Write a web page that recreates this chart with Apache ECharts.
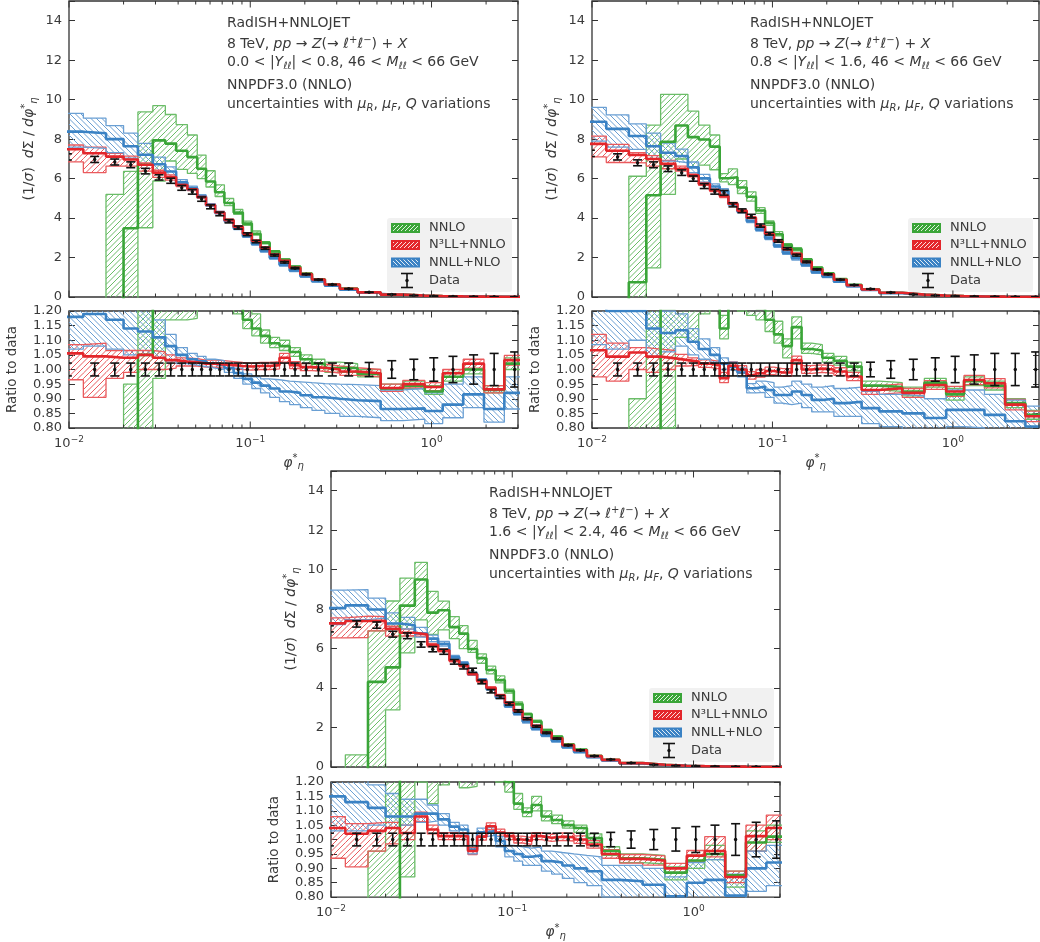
<!DOCTYPE html>
<html>
<head>
<meta charset="utf-8">
<script src="https://cdn.jsdelivr.net/npm/echarts@6/dist/echarts.min.js"></script>
<style>
html, body { margin: 0; padding: 0; background: #fff; }
#chart { width: 1040px; height: 942px; }
</style>
</head>
<body>
<div id="chart"></div>
<script>
// phi*_eta bin edges
var edges = [0.008, 0.012, 0.016, 0.02, 0.024, 0.029, 0.034, 0.039, 0.045, 0.051, 0.057, 0.064, 0.072, 0.081, 0.091, 0.102, 0.114, 0.128, 0.145, 0.165, 0.189, 0.219, 0.258, 0.312, 0.391, 0.524, 0.695, 0.918, 1.153, 1.496, 1.947, 2.522, 3.277];
var xMajorTicks = [0.01, 0.1, 1];
var xMinorTicks = [0.02, 0.03, 0.04, 0.05, 0.06, 0.07, 0.08, 0.09, 0.2, 0.3, 0.4, 0.5, 0.6, 0.7, 0.8, 0.9, 2, 3];
var rapLow = ['0.0', '0.8', '1.6'];
var rapHigh = ['0.8', '1.6', '2.4'];

// panel 1 : 0.0 < |Y| < 0.8  (data in absolute units, models as ratio to data)
var p1Data = [7.10, 6.97, 6.84, 6.70, 6.38, 6.06, 5.89, 5.53, 5.33, 4.96, 4.57, 4.21, 3.84, 3.52, 3.18, 2.81, 2.47, 2.12, 1.76, 1.46, 1.15, 0.88, 0.63, 0.42, 0.24, 0.13, 0.075, 0.046, 0.030, 0.019, 0.012, 0.008];
var p1Err = [0.022, 0.022, 0.022, 0.022, 0.022, 0.022, 0.022, 0.022, 0.022, 0.022, 0.022, 0.022, 0.022, 0.022, 0.022, 0.022, 0.022, 0.022, 0.022, 0.022, 0.022, 0.022, 0.022, 0.022, 0.024, 0.03, 0.035, 0.04, 0.045, 0.05, 0.055, 0.06];
var p1NnloC = [-1.0, -1.0, -0.15, 0.52, 1.05, 1.31, 1.32, 1.34, 1.33, 1.31, 1.28, 1.26, 1.24, 1.215, 1.17, 1.14, 1.115, 1.09, 1.08, 1.06, 1.035, 1.02, 1.005, 1.005, 0.985, 0.935, 0.945, 0.925, 0.975, 1.0, 0.93, 1.02];
var p1NnloLo = [-2.0, -2.0, -1.2, -0.2, 0.55, 0.97, 1.17, 1.17, 1.175, 1.21, 1.22, 1.21, 1.205, 1.19, 1.14, 1.115, 1.09, 1.075, 1.065, 1.045, 1.02, 1.005, 0.99, 0.99, 0.975, 0.925, 0.935, 0.915, 0.96, 0.985, 0.92, 1.0];
var p1NnloHi = [-0.3, -0.3, 0.76, 0.95, 1.47, 1.6, 1.57, 1.58, 1.54, 1.45, 1.40, 1.35, 1.30, 1.26, 1.21, 1.19, 1.135, 1.11, 1.1, 1.075, 1.05, 1.035, 1.025, 1.02, 1.0, 0.95, 0.96, 0.945, 0.99, 1.02, 0.945, 1.04];
var p1N3llC = [1.055, 1.045, 1.04, 1.04, 1.05, 1.04, 1.032, 1.027, 1.025, 1.02, 1.02, 1.017, 1.015, 1.012, 1.01, 1.012, 1.012, 1.015, 1.04, 1.015, 1.008, 1.006, 1.0, 0.993, 0.987, 0.937, 0.95, 0.94, 0.987, 1.02, 0.932, 1.032];
var p1N3llLo = [0.965, 0.905, 0.97, 0.99, 1.0, 1.0, 1.005, 1.012, 1.012, 1.008, 1.008, 1.005, 1.003, 1.0, 0.998, 1.0, 1.0, 1.002, 1.025, 1.003, 0.996, 0.994, 0.988, 0.98, 0.975, 0.925, 0.937, 0.928, 0.975, 1.005, 0.92, 1.015];
var p1N3llHi = [1.085, 1.09, 1.065, 1.065, 1.065, 1.06, 1.05, 1.04, 1.037, 1.032, 1.032, 1.03, 1.027, 1.024, 1.022, 1.024, 1.024, 1.027, 1.055, 1.027, 1.02, 1.018, 1.012, 1.006, 1.0, 0.95, 0.963, 0.955, 1.0, 1.035, 0.945, 1.048];
var p1NnllC = [1.18, 1.19, 1.17, 1.14, 1.13, 1.11, 1.08, 1.05, 1.035, 1.028, 1.02, 1.015, 1.005, 0.988, 0.968, 0.955, 0.945, 0.935, 0.925, 0.92, 0.912, 0.905, 0.9, 0.895, 0.892, 0.865, 0.867, 0.858, 0.88, 0.915, 0.865, 0.92];
var p1NnllLo = [1.07, 1.08, 1.07, 1.05, 1.05, 1.04, 1.03, 1.02, 1.015, 1.01, 1.005, 1.0, 0.99, 0.97, 0.95, 0.935, 0.92, 0.905, 0.89, 0.88, 0.87, 0.86, 0.85, 0.84, 0.835, 0.825, 0.83, 0.815, 0.835, 0.87, 0.82, 0.865];
var p1NnllHi = [1.31, 1.30, 1.27, 1.24, 1.22, 1.17, 1.12, 1.075, 1.055, 1.045, 1.035, 1.03, 1.02, 1.005, 0.985, 0.975, 0.968, 0.965, 0.96, 0.958, 0.955, 0.952, 0.95, 0.948, 0.945, 0.93, 0.935, 0.92, 0.95, 0.975, 0.93, 0.975];

// panel 2 : 0.8 < |Y| < 1.6
var p2Data = [7.28, 7.10, 6.80, 6.70, 6.50, 6.30, 6.00, 5.62, 5.33, 5.28, 4.67, 4.37, 4.10, 3.62, 3.21, 2.84, 2.45, 2.12, 1.78, 1.40, 1.15, 0.88, 0.61, 0.41, 0.23, 0.13, 0.075, 0.046, 0.03, 0.019, 0.012, 0.008];
var p2Err = [0.022, 0.022, 0.022, 0.022, 0.022, 0.022, 0.022, 0.022, 0.022, 0.022, 0.022, 0.022, 0.022, 0.022, 0.022, 0.022, 0.022, 0.022, 0.022, 0.022, 0.022, 0.022, 0.022, 0.025, 0.03, 0.035, 0.04, 0.045, 0.05, 0.055, 0.055, 0.06];
var p2NnloC = [-1.0, -1.0, 0.11, 0.77, 1.21, 1.38, 1.35, 1.42, 1.43, 1.14, 1.30, 1.27, 1.24, 1.21, 1.17, 1.12, 1.08, 1.145, 1.07, 1.065, 1.04, 1.03, 1.01, 0.945, 0.94, 0.925, 0.955, 0.915, 0.96, 0.945, 0.885, 0.845];
var p2NnloLo = [-2.0, -2.0, -0.5, 0.22, 0.80, 1.11, 1.095, 1.19, 1.21, 1.105, 1.22, 1.2, 1.185, 1.17, 1.13, 1.09, 1.04, 1.105, 1.055, 1.05, 1.025, 1.015, 0.995, 0.93, 0.925, 0.91, 0.94, 0.895, 0.945, 0.93, 0.87, 0.83];
var p2NnloHi = [-0.3, -0.3, 0.90, 1.30, 1.58, 1.63, 1.57, 1.55, 1.54, 1.185, 1.39, 1.35, 1.30, 1.25, 1.20, 1.165, 1.105, 1.18, 1.09, 1.085, 1.055, 1.045, 1.025, 0.96, 0.955, 0.94, 0.97, 0.935, 0.975, 0.96, 0.9, 0.86];
var p2N3llC = [1.066, 1.044, 1.058, 1.044, 1.038, 1.032, 1.027, 1.020, 1.015, 0.970, 1.013, 1.000, 0.980, 0.987, 0.995, 0.990, 0.990, 1.032, 1.000, 1.003, 1.000, 0.993, 0.976, 0.930, 0.936, 0.920, 0.947, 0.925, 0.964, 0.953, 0.880, 0.840];
var p2N3llLo = [0.975, 0.960, 1.000, 0.990, 1.000, 1.012, 1.014, 1.007, 1.002, 0.955, 1.000, 0.987, 0.967, 0.974, 0.982, 0.977, 0.977, 1.018, 0.987, 0.990, 0.987, 0.980, 0.962, 0.915, 0.921, 0.905, 0.932, 0.908, 0.948, 0.937, 0.862, 0.822];
var p2N3llHi = [1.120, 1.090, 1.075, 1.070, 1.065, 1.052, 1.040, 1.033, 1.028, 0.990, 1.026, 1.013, 0.993, 1.000, 1.008, 1.003, 1.003, 1.046, 1.013, 1.016, 1.013, 1.006, 0.990, 0.945, 0.951, 0.935, 0.962, 0.942, 0.980, 0.969, 0.898, 0.858];
var p2NnllC = [1.22, 1.20, 1.20, 1.14, 1.125, 1.134, 1.095, 1.07, 1.05, 1.02, 1.01, 0.99, 0.936, 0.942, 0.93, 0.913, 0.913, 0.925, 0.913, 0.896, 0.9, 0.885, 0.89, 0.868, 0.857, 0.85, 0.834, 0.862, 0.862, 0.845, 0.823, 0.805];
var p2NnllLo = [1.085, 1.07, 1.10, 1.045, 1.06, 1.08, 1.05, 1.035, 1.025, 1.0, 0.995, 0.975, 0.92, 0.922, 0.905, 0.885, 0.88, 0.885, 0.87, 0.855, 0.855, 0.84, 0.84, 0.815, 0.805, 0.795, 0.78, 0.805, 0.8, 0.78, 0.76, 0.74];
var p2NnllHi = [1.32, 1.30, 1.29, 1.24, 1.20, 1.19, 1.14, 1.105, 1.075, 1.04, 1.025, 1.005, 0.952, 0.96, 0.955, 0.94, 0.945, 0.96, 0.95, 0.94, 0.945, 0.935, 0.94, 0.925, 0.915, 0.91, 0.9, 0.93, 0.93, 0.915, 0.895, 0.875];

// panel 3 : 1.6 < |Y| < 2.4
var p3Data = [7.00, 7.25, 7.19, 6.73, 6.65, 6.21, 5.97, 5.84, 5.33, 5.08, 4.90, 4.31, 3.84, 3.55, 3.21, 2.84, 2.45, 2.06, 1.73, 1.44, 1.10, 0.85, 0.56, 0.38, 0.21, 0.12, 0.07, 0.045, 0.03, 0.019, 0.012, 0.008];
var p3Err = [0.022, 0.022, 0.022, 0.022, 0.022, 0.022, 0.022, 0.022, 0.022, 0.022, 0.022, 0.022, 0.022, 0.022, 0.022, 0.022, 0.022, 0.022, 0.022, 0.022, 0.022, 0.022, 0.022, 0.025, 0.03, 0.035, 0.04, 0.045, 0.05, 0.055, 0.06, 0.065];
var p3NnloC = [-1.0, -0.5, 0.6, 0.75, 1.23, 1.53, 1.31, 1.36, 1.33, 1.33, 1.22, 1.28, 1.28, 1.24, 1.20, 1.125, 1.095, 1.12, 1.08, 1.068, 1.05, 1.04, 1.005, 0.96, 0.935, 0.93, 0.885, 0.927, 0.95, 0.876, 0.99, 1.01];
var p3NnloLo = [-2.0, -1.5, -0.1, 0.43, 0.87, 1.2, 1.125, 1.19, 1.22, 1.18, 1.185, 1.22, 1.23, 1.2, 1.165, 1.105, 1.08, 1.1, 1.065, 1.055, 1.04, 1.025, 0.99, 0.945, 0.92, 0.915, 0.86, 0.9, 0.93, 0.835, 0.96, 0.99];
var p3NnloHi = [-0.5, 0.085, 0.96, 1.25, 1.44, 1.67, 1.49, 1.44, 1.43, 1.41, 1.31, 1.33, 1.33, 1.3, 1.23, 1.16, 1.11, 1.15, 1.1, 1.085, 1.065, 1.05, 1.02, 0.975, 0.95, 0.945, 0.905, 0.945, 0.98, 0.89, 1.03, 1.05];
var p3N3llC = [1.040, 1.020, 1.030, 1.040, 1.023, 1.080, 1.035, 1.012, 1.012, 1.012, 0.960, 1.010, 1.046, 1.024, 1.012, 1.000, 0.995, 1.012, 1.006, 1.010, 1.008, 1.000, 0.983, 0.950, 0.933, 0.927, 0.900, 0.944, 0.960, 0.870, 1.012, 1.040];
var p3N3llLo = [0.935, 0.905, 0.960, 0.985, 1.000, 1.062, 1.020, 1.000, 1.000, 1.000, 0.948, 0.998, 1.034, 1.012, 1.000, 0.988, 0.983, 1.000, 0.994, 0.997, 0.995, 0.987, 0.970, 0.935, 0.918, 0.911, 0.883, 0.925, 0.940, 0.850, 0.960, 1.000];
var p3N3llHi = [1.080, 1.055, 1.060, 1.060, 1.050, 1.095, 1.050, 1.024, 1.024, 1.024, 0.972, 1.022, 1.058, 1.036, 1.024, 1.012, 1.007, 1.024, 1.018, 1.023, 1.021, 1.013, 0.996, 0.965, 0.948, 0.943, 0.917, 0.962, 1.010, 0.890, 1.050, 1.085];
var p3NnllC = [1.15, 1.13, 1.11, 1.08, 1.08, 1.09, 1.09, 1.07, 1.045, 1.035, 0.965, 1.025, 1.03, 0.995, 0.96, 0.95, 0.94, 0.945, 0.925, 0.92, 0.91, 0.90, 0.89, 0.86, 0.855, 0.843, 0.803, 0.85, 0.86, 0.805, 0.90, 0.92];
var p3NnllLo = [1.03, 1.03, 1.05, 1.04, 1.05, 1.06, 1.065, 1.05, 1.03, 1.02, 0.95, 1.01, 1.015, 0.975, 0.94, 0.925, 0.91, 0.91, 0.89, 0.88, 0.865, 0.85, 0.84, 0.80, 0.79, 0.775, 0.735, 0.78, 0.79, 0.73, 0.82, 0.84];
var p3NnllHi = [1.28, 1.24, 1.19, 1.16, 1.14, 1.14, 1.12, 1.09, 1.06, 1.05, 0.98, 1.04, 1.045, 1.01, 0.98, 0.975, 0.97, 0.975, 0.96, 0.955, 0.95, 0.945, 0.94, 0.91, 0.91, 0.9, 0.87, 0.92, 0.93, 0.88, 0.96, 0.98];

var FONT = 'DejaVu Sans';
var TXT = '#3a3a3a';
var FRAME = '#333';

var models = [
  {key: 'nnlo', name: 'NNLO', color: '#3aa538', light: '#6bbd68', back: false},
  {key: 'n3ll', name: 'N³LL+NNLO', color: '#e3262b', light: '#ea5a5d', back: false},
  {key: 'nnll', name: 'NNLL+NLO', color: '#3a82c4', light: '#6a9fd3', back: true}
];

var panels = [
  {data: p1Data, err: p1Err, nnlo: [p1NnloC, p1NnloLo, p1NnloHi], n3ll: [p1N3llC, p1N3llLo, p1N3llHi], nnll: [p1NnllC, p1NnllLo, p1NnllHi],
   main: {left: 69, top: 1, width: 449, height: 296}, ratio: {left: 69, top: 311, width: 449, height: 117}},
  {data: p2Data, err: p2Err, nnlo: [p2NnloC, p2NnloLo, p2NnloHi], n3ll: [p2N3llC, p2N3llLo, p2N3llHi], nnll: [p2NnllC, p2NnllLo, p2NnllHi],
   main: {left: 592, top: 1, width: 447, height: 296}, ratio: {left: 592, top: 311, width: 447, height: 117}},
  {data: p3Data, err: p3Err, nnlo: [p3NnloC, p3NnloLo, p3NnloHi], n3ll: [p3N3llC, p3N3llLo, p3N3llHi], nnll: [p3NnllC, p3NnllLo, p3NnllHi],
   main: {left: 331, top: 471, width: 449, height: 296}, ratio: {left: 331, top: 782, width: 449, height: 118}}
];

// diagonal hatch segments inside a pixel rectangle, anchored to the page so bins join up
function hatchSegs(x0, x1, yT, yB, back, s) {
  var out = [], c, xa, xb;
  if (!back) {
    for (c = Math.ceil((x0 + yT) / s) * s; c <= x1 + yB; c += s) {
      xa = Math.max(x0, c - yB); xb = Math.min(x1, c - yT);
      if (xb > xa) out.push([xa, c - xa, xb, c - xb]);
    }
  } else {
    for (c = Math.ceil((x0 - yB) / s) * s; c <= x1 - yT; c += s) {
      xa = Math.max(x0, c + yT); xb = Math.min(x1, c + yB);
      if (xb > xa) out.push([xa, xa - c, xb, xb - c]);
    }
  }
  return out;
}
function hatchPath(x0, x1, yT, yB, back, s) {
  return hatchSegs(x0, x1, yT, yB, back, s).map(function (q) {
    return 'M' + q[0].toFixed(2) + ' ' + q[1].toFixed(2) + 'L' + q[2].toFixed(2) + ' ' + q[3].toFixed(2);
  }).join('');
}

// histogram points for a step line (value of bin i starts at edges[i])
function steps(vals, scale) {
  var pts = [];
  for (var i = 0; i < vals.length; i++) pts.push([edges[i], vals[i] * (scale ? scale[i] : 1)]);
  var n = vals.length - 1;
  pts.push([edges[n + 1], vals[n] * (scale ? scale[n] : 1)]);
  return pts;
}

var rich = {
  i: {fontStyle: 'italic', fontFamily: FONT, fontSize: 14},
  sub: {fontFamily: FONT, fontSize: 10, lineHeight: 10, verticalAlign: 'bottom'},
  isub: {fontFamily: FONT, fontStyle: 'italic', fontSize: 10, lineHeight: 10, verticalAlign: 'bottom'},
  sup: {fontFamily: FONT, fontSize: 10, lineHeight: 10, verticalAlign: 'top'}
};

function xAxisFor(gi, labels) {
  return {
    gridIndex: gi, type: 'log', logBase: 10, min: 0.01, max: 3,
    axisLine: {show: false}, axisTick: {show: false}, splitLine: {show: false},
    axisLabel: labels ? {
      show: true, margin: 7, color: TXT, fontFamily: FONT, fontSize: 13, lineHeight: 18,
      showMaxLabel: false,
      formatter: function (v) {
        var e = Math.round(Math.log10(v));
        if (Math.abs(v / Math.pow(10, e) - 1) > 1e-6) return '';
        return '10{sup|' + (e < 0 ? '−' + (-e) : e) + '}';
      },
      rich: {sup: {fontFamily: FONT, fontSize: 9, lineHeight: 9, verticalAlign: 'top', color: TXT}}
    } : {show: false},
    name: labels ? '{i|φ}{sup|*}{sub|η}' : '',
    nameLocation: 'middle', nameGap: 19,
    nameTextStyle: {fontFamily: FONT, fontSize: 14, color: TXT, lineHeight: 18, rich: {
      i: {fontStyle: 'italic', fontFamily: FONT, fontSize: 14, color: TXT},
      sup: {fontFamily: FONT, fontSize: 10, lineHeight: 10, verticalAlign: 'top', color: TXT},
      sub: {fontFamily: FONT, fontStyle: 'italic', fontSize: 10, lineHeight: 10, verticalAlign: 'bottom', color: TXT}
    }}
  };
}

function yAxisFor(gi, isRatio, right) {
  var ax = {
    gridIndex: gi, type: 'value', position: right ? 'right' : 'left',
    min: isRatio ? 0.8 : 0, max: isRatio ? 1.2 : 15, interval: isRatio ? 0.05 : 2,
    axisLine: {show: false}, splitLine: {show: false},
    axisTick: {show: true, inside: true, length: 6, lineStyle: {color: FRAME, width: 1}},
    axisLabel: right ? {show: false} : {
      show: true, margin: 7, color: TXT, fontFamily: FONT, fontSize: 13,
      formatter: function (v) {
        if (isRatio) return v.toFixed(2);
        return v > 14.5 ? '' : String(v);
      }
    }
  };
  if (!right) {
    var fs = isRatio ? 13.5 : 14;
    ax.name = isRatio ? 'Ratio to data' : '(1/{i|σ})  {i|d}Σ / {i|d}{i|φ}{sup|*}{sub|η}';
    ax.nameLocation = 'middle';
    ax.nameRotate = 90;
    ax.nameGap = isRatio ? 47 : 30;
    ax.nameTextStyle = {fontFamily: FONT, fontSize: fs, color: TXT, lineHeight: 19, rich: {
      i: {fontStyle: 'italic', fontFamily: FONT, fontSize: fs, color: TXT},
      sup: {fontFamily: FONT, fontSize: 10, lineHeight: 10, verticalAlign: 'top', color: TXT},
      sub: {fontFamily: FONT, fontStyle: 'italic', fontSize: 10, lineHeight: 10, verticalAlign: 'bottom', color: TXT}
    }};
  }
  return ax;
}

function tickSeries(xi, yi, yMin, yMax) {
  var d = xMajorTicks.map(function (v) { return [v, 1]; }).concat(xMinorTicks.map(function (v) { return [v, 0]; }));
  return {
    type: 'custom', xAxisIndex: xi, yAxisIndex: yi, data: d, silent: true, clip: false, z: 10,
    renderItem: function (params, api) {
      var len = api.value(1) ? 6.5 : 3.5;
      var b = api.coord([api.value(0), yMin]);
      var t = api.coord([api.value(0), yMax]);
      var st = {stroke: FRAME, lineWidth: 1};
      return {type: 'group', children: [
        {type: 'line', shape: {x1: b[0], y1: b[1], x2: b[0], y2: b[1] - len}, style: st},
        {type: 'line', shape: {x1: t[0], y1: t[1], x2: t[0], y2: t[1] + len}, style: st}
      ]};
    }
  };
}

function dataSeries(xi, yi, p, isRatio) {
  var d = [];
  for (var i = 0; i < p.data.length; i++) {
    var x = Math.sqrt(edges[i] * edges[i + 1]);
    var y = isRatio ? 1 : p.data[i];
    var h = isRatio ? p.err[i] : p.err[i] * p.data[i];
    d.push([x, y, y - h, y + h]);
  }
  return {
    type: 'custom', xAxisIndex: xi, yAxisIndex: yi, data: d, silent: true, clip: true, z: 8,
    renderItem: function (params, api) {
      var p0 = api.coord([api.value(0), api.value(1)]);
      var a = api.coord([api.value(0), api.value(2)]);
      var b = api.coord([api.value(0), api.value(3)]);
      var w = 4.5;
      var st = {stroke: '#111', lineWidth: 1.6};
      return {type: 'group', children: [
        {type: 'line', shape: {x1: p0[0], y1: a[1], x2: p0[0], y2: b[1]}, style: st},
        {type: 'line', shape: {x1: p0[0] - w, y1: a[1], x2: p0[0] + w, y2: a[1]}, style: st},
        {type: 'line', shape: {x1: p0[0] - w, y1: b[1], x2: p0[0] + w, y2: b[1]}, style: st},
        {type: 'circle', shape: {cx: p0[0], cy: p0[1], r: 1.7}, style: {fill: '#111'}}
      ]};
    }
  };
}

function modelSeries(xi, yi, m, arr, scale) {
  var c = arr[0], lo = arr[1], hi = arr[2];
  var boxes = [];
  for (var i = 0; i < c.length; i++) {
    var s = scale ? scale[i] : 1;
    boxes.push([edges[i], edges[i + 1], lo[i] * s, hi[i] * s]);
  }
  var common = {type: 'line', xAxisIndex: xi, yAxisIndex: yi, step: 'end', symbol: 'none', showSymbol: false, silent: true, animation: false};
  return {
    band: [
      {type: 'custom', xAxisIndex: xi, yAxisIndex: yi, data: boxes, silent: true, clip: true, z: 2,
        renderItem: function (params, api) {
          var cs = params.coordSys;
          var a = api.coord([api.value(0), api.value(3)]);
          var b = api.coord([api.value(1), api.value(2)]);
          var x0 = Math.max(a[0], cs.x), x1 = Math.min(b[0], cs.x + cs.width);
          var yT = Math.max(a[1], cs.y), yB = Math.min(b[1], cs.y + cs.height);
          if (x1 <= x0 || yB <= yT) return null;
          var path = hatchPath(x0, x1, yT, yB, m.back, 5.5);
          if (!path) return null;
          return {type: 'path', shape: {pathData: path}, style: {stroke: m.light, lineWidth: 1, fill: 'none', opacity: 1}};
        }},
      Object.assign({}, common, {data: steps(lo, scale), z: 3, lineStyle: {color: m.light, width: 1.3}}),
      Object.assign({}, common, {data: steps(hi, scale), z: 3, lineStyle: {color: m.light, width: 1.3}})
    ],
    line: Object.assign({}, common, {data: steps(c, scale), z: 4, lineStyle: {color: m.color, width: 2.6}})
  };
}

var grids = [], xAxes = [], yAxes = [], series = [], graphics = [];

panels.forEach(function (p, k) {
  var gm = 2 * k, gr = 2 * k + 1;
  var gstyle = {show: true, borderColor: FRAME, borderWidth: 1.3, backgroundColor: 'rgba(0,0,0,0)', containLabel: false};
  grids.push(Object.assign({}, gstyle, p.main));
  grids.push(Object.assign({}, gstyle, p.ratio));
  xAxes.push(xAxisFor(gm, false));
  xAxes.push(xAxisFor(gr, true));
  yAxes.push(yAxisFor(gm, false, false), yAxisFor(gm, false, true), yAxisFor(gr, true, false), yAxisFor(gr, true, true));
  var ym = 4 * k, yr = 4 * k + 2;

  var lines = [];
  models.forEach(function (m) {
    var arr = p[m.key];
    var a = modelSeries(gm, ym, m, arr, p.data);
    var b = modelSeries(gr, yr, m, arr, null);
    series.push.apply(series, a.band.concat(b.band));
    lines.push(a.line, b.line);
  });
  // central lines: NNLO, NNLL+NLO, then N3LL+NNLO on top
  series.push(lines[0], lines[1], lines[4], lines[5], lines[2], lines[3]);
  series.push(dataSeries(gm, ym, p, false), dataSeries(gr, yr, p, true));
  series.push(tickSeries(gm, ym, 0, 15), tickSeries(gr, yr, 0.8, 1.2));

  // annotation block
  var tx = p.main.left + 158, ty = p.main.top;
  var rows = [
    'RadISH+NNLOJET',
    '8 TeV, {i|pp} → {i|Z}(→ {i|ℓ}{sup|+}{i|ℓ}{sup|−}) + {i|X}',
    rapLow[k] + ' < |{i|Y}{isub|ℓℓ}| < ' + rapHigh[k] + ', 46 < {i|M}{isub|ℓℓ} < 66 GeV',
    'NNPDF3.0 (NNLO)',
    'uncertainties with {i|μ}{isub|R}, {i|μ}{isub|F}, {i|Q} variations'
  ];
  var rowY = [22, 43, 61, 84, 103];
  rows.forEach(function (r, j) {
    graphics.push({type: 'text', x: tx, y: ty + rowY[j], z: 100, silent: true,
      style: {text: r, fill: TXT, fontFamily: FONT, fontSize: 14, lineHeight: 18, align: 'left', verticalAlign: 'middle', rich: rich}});
  });

  // legend box
  var right = p.main.left + p.main.width, bottom = p.main.top + p.main.height;
  var bx = right - 131, by = bottom - 79;
  var kids = [{type: 'rect', shape: {x: bx, y: by, width: 125, height: 74, r: 3}, style: {fill: 'rgba(240,240,240,0.9)'}}];
  var ly = [by + 10, by + 27, by + 44.5, by + 62.5];
  models.forEach(function (m, j) {
    kids.push({type: 'rect', shape: {x: bx + 5, y: ly[j] - 4, width: 27, height: 8}, style: {fill: m.color}});
    hatchSegs(bx + 5, bx + 32, ly[j] - 4, ly[j] + 4, m.back, 4).forEach(function (q) {
      kids.push({type: 'line', shape: {x1: q[0], y1: q[1], x2: q[2], y2: q[3]}, style: {stroke: 'rgba(255,255,255,0.85)', lineWidth: 1}});
    });
    kids.push({type: 'rect', shape: {x: bx + 5, y: ly[j] - 4, width: 27, height: 8},
      style: {fill: 'none', stroke: m.color, lineWidth: 2}});
    kids.push({type: 'text', x: bx + 42, y: ly[j], style: {text: m.name, fill: TXT, fontFamily: FONT, fontSize: 13, verticalAlign: 'middle'}});
  });
  var cx = bx + 20, cy = ly[3];
  var est = {stroke: '#111', lineWidth: 1.6};
  kids.push({type: 'line', shape: {x1: cx, y1: cy - 7, x2: cx, y2: cy + 7}, style: est});
  kids.push({type: 'line', shape: {x1: cx - 6, y1: cy - 7, x2: cx + 6, y2: cy - 7}, style: est});
  kids.push({type: 'line', shape: {x1: cx - 6, y1: cy + 7, x2: cx + 6, y2: cy + 7}, style: est});
  kids.push({type: 'circle', shape: {cx: cx, cy: cy, r: 1.7}, style: {fill: '#111'}});
  kids.push({type: 'text', x: bx + 42, y: cy, style: {text: 'Data', fill: TXT, fontFamily: FONT, fontSize: 13, verticalAlign: 'middle'}});
  graphics.push({type: 'group', z: 100, silent: true, children: kids});
});

var chart = echarts.init(document.getElementById('chart'), null, {renderer: 'canvas'});
chart.setOption({
  backgroundColor: '#fff',
  animation: false,
  textStyle: {fontFamily: FONT},
  grid: grids,
  xAxis: xAxes,
  yAxis: yAxes,
  series: series,
  graphic: graphics
});
</script>
</body>
</html>
